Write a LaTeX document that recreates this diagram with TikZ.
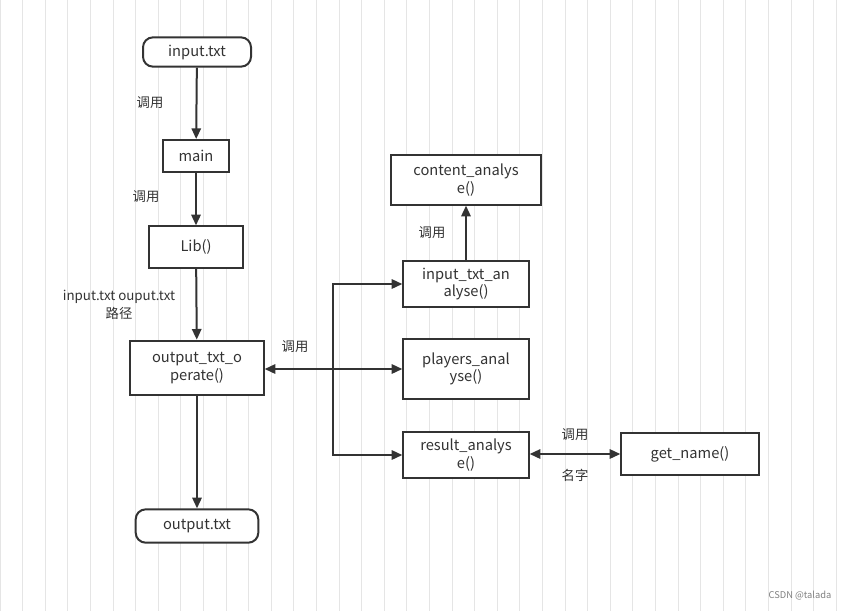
\documentclass[tikz,border=0pt]{standalone}
\usepackage{fontspec}
\setmainfont{Noto Sans CJK SC}
\usetikzlibrary{arrows.meta}
\begin{document}
\begin{tikzpicture}[x=0.75pt,y=-0.75pt,
  box/.style={draw=black!80,line width=1.5pt,fill=white,align=center,font=\fontsize{11}{13}\selectfont,text=black!80,inner sep=0pt},
  pill/.style={box,rounded corners=7.5pt},
  lab/.style={font=\fontsize{10}{12}\selectfont,text=black!80,align=center},
  arr/.style={draw=black!80,line width=1.5pt,-{Triangle[length=8pt,width=7pt]}}]
\useasboundingbox (0,0) rectangle (853,611);
\fill[white] (0,0) rectangle (853,611);
\draw[black!10,line width=0.5pt] (0,0) grid[step=22.6] (853,611);
\node[pill,minimum width=81pt,minimum height=22pt] (in) at (197,52) {input.txt};
\node[box,minimum width=50pt,minimum height=24pt] (main) at (196,156) {main};
\node[box,minimum width=70pt,minimum height=31pt] (lib) at (196,247) {Lib()};
\node[box,minimum width=100pt,minimum height=41pt] (op) at (197,368) {output\_txt\_o\\perate()};
\node[pill,minimum width=92pt,minimum height=25pt] (out) at (197,526) {output.txt};
\node[box,minimum width=112pt,minimum height=37pt] (ca) at (466,180) {content\_analys\\e()};
\node[box,minimum width=94pt,minimum height=35pt] (ia) at (466,284) {input\_txt\_an\\alyse()};
\node[box,minimum width=94pt,minimum height=45pt] (pa) at (466,369) {players\_anal\\yse()};
\node[box,minimum width=94pt,minimum height=35pt] (ra) at (466,455) {result\_analys\\e()};
\node[box,minimum width=103pt,minimum height=31pt] (gn) at (690,454) {get\_name()};
\coordinate (j) at (333,369);
\draw[arr] (in) -- (main);
\draw[arr] (main) -- (lib);
\draw[arr] (lib) -- (op);
\draw[arr] (op) -- (out);
\draw[arr] (ia) -- (ca);
\draw[arr,{Triangle[length=8pt,width=7pt]}-{Triangle[length=8pt,width=7pt]}] (op.east |- j) -- (pa.west |- j);
\draw[arr] (j) |- (ia.west);
\draw[arr] (j) |- (ra.west);
\draw[arr,{Triangle[length=8pt,width=7pt]}-{Triangle[length=8pt,width=7pt]}] (ra.east |- gn) -- (gn.west);
\node[lab] (l1) at (150,103) {调用};
\node[lab] (l2) at (146,197) {调用};
\node[lab,font=\fontsize{10}{14}\selectfont] (l3) at (119,305) {input.txt ouput.txt\\路径};
\node[lab] (l4) at (295,347) {调用};
\node[lab] (l5) at (432,233) {调用};
\node[lab] (l6) at (575,435) {调用};
\node[lab] (l7) at (575,475) {名字};
\node[font=\fontsize{7}{8}\selectfont,text=black!50] (c) at (800,596) {CSDN @talada};
\end{tikzpicture}
\end{document}
